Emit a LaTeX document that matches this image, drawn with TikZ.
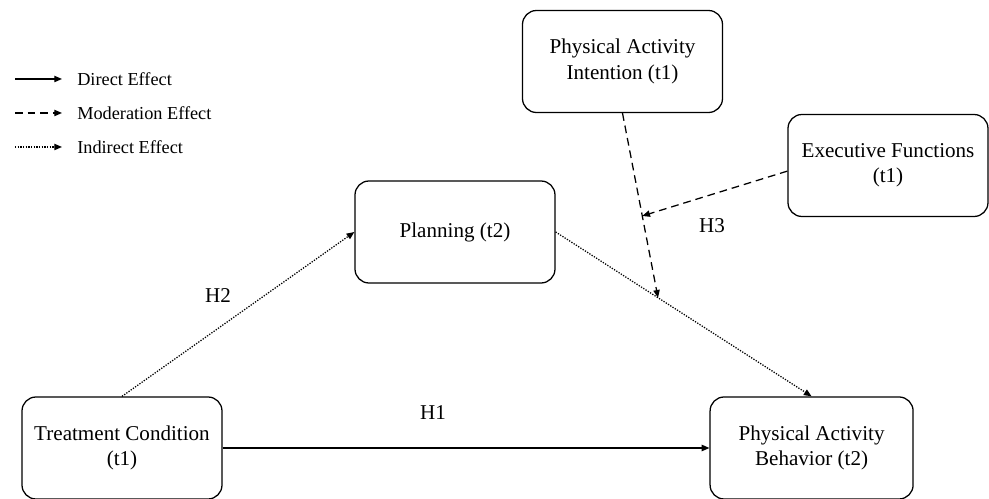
\documentclass[tikz,border=0pt]{standalone}
\usepackage{fontspec}
\setmainfont{Liberation Serif}
\usetikzlibrary{arrows.meta,positioning,calc}
\tikzset{
  bloc/.style={draw, line width=0.9pt, rounded corners=0.35cm,
    minimum width=5cm, minimum height=2.55cm, align=center,
    font=\fontsize{15}{18}\selectfont},
  pointe/.style={-{Triangle[length=5.5pt,width=4.5pt]}},
  direct/.style={line width=0.9pt, pointe},
  moder/.style={line width=0.9pt, dash pattern=on 5.5pt off 3.5pt, pointe},
  indir/.style={line width=0.9pt, densely dotted, pointe},
  etiq/.style={font=\fontsize{15}{18}\selectfont},
  legende/.style={anchor=west, inner sep=0pt, inner xsep=0.375cm,
    font=\fontsize{13}{15}\selectfont},
}

\begin{document}
\begin{tikzpicture}
    \useasboundingbox (0,0) rectangle (24.725,12.475);
    % Les blocs
    \node[bloc] (tc) at (3.05,1.275) {Treatment Condition\\(t1)};
    \node[bloc] (plan) at (11.375,6.675) {Planning (t2)};
    \node[bloc] (pai) at (15.5625,10.9375) {Physical Activity\\Intention (t1)};
    \node[bloc] (ef) at (22.2,8.3375) {Executive Functions\\(t1)};
    \node[bloc, minimum width=5.075cm] (pab) at (20.29,1.275) {Physical Activity\\Behavior (t2)};
    % Effet direct
    \draw[direct] (tc) -- (pab);
    % Effets indirects
    \draw[indir] (tc.north) -- (plan.west);
    \draw[indir] (plan.east) -- (pab.north);
    % Effets de moderation
    \coordinate (m1) at ($(plan.east)!0.4!(pab.north)$);
    \coordinate (m2) at ($(pai.south)!0.557!(m1)$);
    \draw[moder] (pai.south) -- (m1);
    \draw[moder] ([yshift=-4pt]ef.west) -- (m2);
    % Hypotheses
    \node[etiq] (h1) at (10.825,2.15) {H1};
    \node[etiq] (h2) at (5.45,5.075) {H2};
    \node[etiq] (h3) at (17.8,6.825) {H3};
    % Legende
    \coordinate (l1) at (0.375,10.5);
    \coordinate (l2) at (0.375,9.65);
    \coordinate (l3) at (0.375,8.8);
    \node[legende] (leg1) at (1.55,10.5) {Direct Effect};
    \node[legende] (leg2) at (1.55,9.65) {Moderation Effect};
    \node[legende] (leg3) at (1.55,8.8) {Indirect Effect};
    \draw[direct] (l1) -- (leg1.west);
    \draw[moder] (l2) -- (leg2.west);
    \draw[indir] (l3) -- (leg3.west);
\end{tikzpicture}
\end{document}
